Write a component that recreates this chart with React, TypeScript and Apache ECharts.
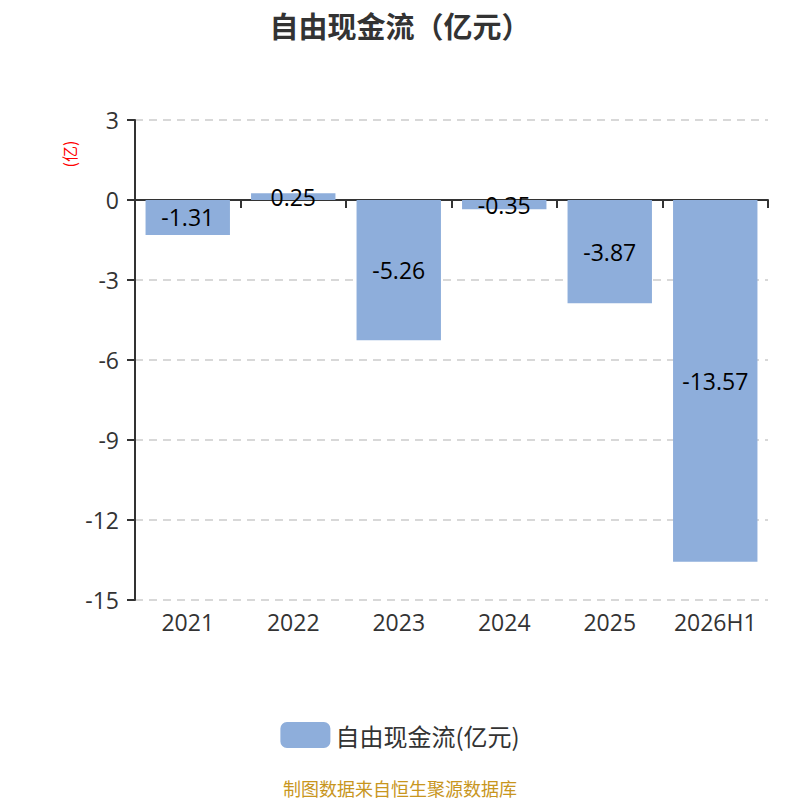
import React, { useEffect, useRef } from "react";
import * as echarts from "echarts";

const categories = ["2021", "2022", "2023", "2024", "2025", "2026H1"];
const values = [-1.31, 0.25, -5.26, -0.35, -3.87, -13.57];
const seriesName = "自由现金流(亿元)";
const titleText = "自由现金流（亿元）";
const unitText = "(亿)";
const footerText = "制图数据来自恒生聚源数据库";

const FONT = "'Open Sans', 'Noto Sans CJK SC', 'Noto Sans', sans-serif";
const CJK = "'Noto Sans CJK SC', 'Noto Sans', sans-serif";

export default function App() {
  const ref = useRef<HTMLDivElement>(null);
  useEffect(() => {
    if (!ref.current) return;
    const chart = echarts.init(ref.current, undefined, { renderer: "svg" });
    chart.setOption({
      animation: false,
      textStyle: { fontFamily: FONT },
      grid: { left: 127, right: 24, top: 112, bottom: 208, containLabel: false },
      legend: {
        data: [seriesName],
        bottom: 55,
        left: "center",
        itemWidth: 50,
        itemHeight: 26,
        itemGap: 10,
        textStyle: { fontSize: 24, color: "#333", fontFamily: CJK },
      },
      graphic: [
        {
          type: "text",
          left: "center",
          top: 2,
          style: {
            text: titleText,
            fill: "#333",
            fontSize: 29,
            fontWeight: "bold",
            fontFamily: CJK,
          },
        },
        {
          type: "text",
          x: 61,
          y: 146,
          rotation: Math.PI / 2,
          style: {
            text: unitText,
            fill: "#ff0000",
            fontSize: 16,
            fontFamily: CJK,
            align: "center",
            verticalAlign: "middle",
          },
        },
        {
          type: "text",
          left: "center",
          top: 771,
          style: {
            text: footerText,
            fill: "#c8961e",
            fontSize: 18,
            fontFamily: CJK,
          },
        },
      ],
      xAxis: {
        type: "category",
        data: categories,
        axisLine: { onZero: true, lineStyle: { color: "#333", width: 2 } },
        axisTick: { show: true, interval: 0, alignWithLabel: false, length: 8, lineStyle: { color: "#333", width: 2 } },
        axisLabel: {
          interval: 0,
          fontSize: 23,
          color: "#333",
          fontFamily: FONT,
          margin: 10,
        },
        position: "bottom",
      },
      yAxis: {
        type: "value",
        min: -15,
        max: 3,
        interval: 3,
        axisLine: { show: true, lineStyle: { color: "#333", width: 2 } },
        axisTick: { show: true, length: 8, lineStyle: { color: "#333", width: 2 } },
        axisLabel: { fontSize: 23, color: "#333", fontFamily: FONT, margin: 16 },
        splitLine: { show: true, lineStyle: { type: [8, 6], color: "#ccc", width: 1.5 } },
      },
      series: [
        {
          name: seriesName,
          type: "bar",
          data: values,
          barWidth: "80%",
          itemStyle: { color: "#8eaedb" },
          label: {
            show: true,
            position: "inside",
            color: "#000",
            fontSize: 23,
            fontFamily: FONT,
          },
        },
      ],
    });
    return () => chart.dispose();
  }, []);
  return <div ref={ref} style={{ width: 784, height: 800 }} />;
}
